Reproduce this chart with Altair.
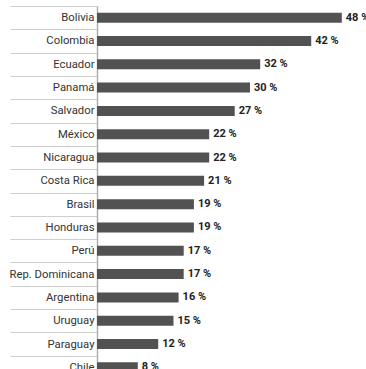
import altair as alt
import pandas as pd

countries = ["Bolivia", "Colombia", "Ecuador", "Panamá", "Salvador", "México",
             "Nicaragua", "Costa Rica", "Brasil", "Honduras", "Perú",
             "Rep. Dominicana", "Argentina", "Uruguay", "Paraguay", "Chile"]
values = [48, 42, 32, 30, 27, 22, 22, 21, 19, 19, 17, 17, 16, 15, 12, 8]

df = pd.DataFrame({"pais": countries, "valor": values})
df["etiqueta"] = df["valor"].astype(str) + " %"

FONT = "Roboto, sans-serif"

y = alt.Y("pais:N", sort=countries,
          scale=alt.Scale(paddingInner=0, paddingOuter=0),
          axis=alt.Axis(title=None, tickBand="extent", tickSize=87,
                        tickColor="#cfcfcf", tickWidth=1,
                        domainColor="#b0b0b0", domainWidth=1.5,
                        labelPadding=-84, labelFont=FONT, labelFontSize=11.3,
                        labelColor="#333333", labelLimit=0))
x = alt.X("valor:Q", scale=alt.Scale(domain=[0, 50]), axis=None)

bars = alt.Chart(df).mark_bar(size=10, color="#525252").encode(x=x, y=y)
text = alt.Chart(df).mark_text(align="left", baseline="middle", dx=4,
                               font=FONT, fontSize=11, fontWeight="bold",
                               color="#222222").encode(x=x, y=y, text="etiqueta:N")

chart = (bars + text).properties(
    width=255, height=373,
    autosize=alt.AutoSizeParams(type="none"),
    padding={"left": 97, "top": 6, "right": 14, "bottom": 0},
    background="white",
).configure_view(stroke=None)

chart.save("out.html", embed_options={"renderer": "svg", "actions": False})
